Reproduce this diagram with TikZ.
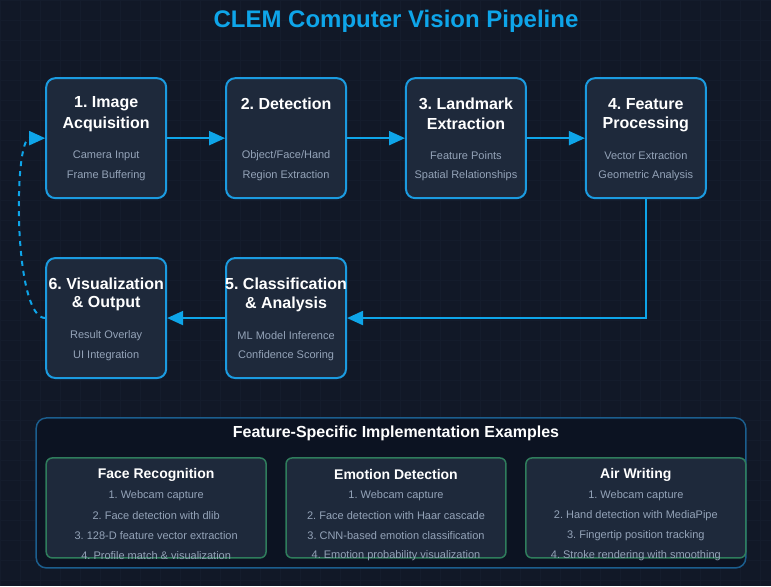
\documentclass[tikz,border=0pt]{standalone}
\usepackage{fontspec}
\setmainfont{Liberation Sans}
\usetikzlibrary{arrows.meta}
\frenchspacing

\definecolor{bgcol}{HTML}{111827}
\definecolor{gridcol}{HTML}{141C2C}
\definecolor{boxfill}{HTML}{1E293B}
\definecolor{accent}{HTML}{0EA5E9}
\definecolor{edgecol}{HTML}{1B9BE0}
\definecolor{subtext}{HTML}{94A3B8}
\definecolor{panelfill}{HTML}{0C1322}
\definecolor{paneledge}{HTML}{1B5E8E}
\definecolor{greenedge}{HTML}{2F7D5C}

\tikzset{
  stage/.style={draw=edgecol, line width=2pt, fill=boxfill, rounded corners=9pt,
    minimum width=120pt, minimum height=120pt, inner sep=0pt},
  stagetitle/.style={text=white, font=\bfseries\fontsize{16}{18}\selectfont, inner sep=0pt},
  stagenote/.style={text=subtext, font=\fontsize{11}{13}\selectfont, inner sep=0pt},
  flow/.style={draw=accent, line width=2pt, -{Triangle[length=16pt,width=14pt]}},
  loopback/.style={draw=accent, line width=2pt, dash pattern=on 5pt off 5pt,
    -{Triangle[length=16pt,width=14pt]}},
  examplebox/.style={draw=greenedge, line width=1.5pt, fill=boxfill, rounded corners=6pt,
    minimum width=220pt, minimum height=100pt, inner sep=0pt},
  exampletitle/.style={text=white, font=\bfseries\fontsize{14}{16}\selectfont, inner sep=0pt},
  exampleitem/.style={text=subtext, font=\fontsize{11}{13}\selectfont, inner sep=0pt},
}

\begin{document}
\begin{tikzpicture}[x=1pt, y=-1pt]
  % canvas and faint grid
  \fill[bgcol] (0,0) rectangle (771,586);
  \draw[gridcol, line width=0.5pt, step=20pt] (0,0) grid (771,586);
  \useasboundingbox (0,0) rectangle (771,586);

  % heading
  \node[text=accent, font=\bfseries\fontsize{24}{28}\selectfont, inner sep=0pt] (heading) at (396,21)
    {CLEM Computer Vision Pipeline};

  % pipeline stages
  \node[stage] (b1) at (106,138) {};
  \node[stage] (b2) at (286,138) {};
  \node[stage] (b3) at (466,138) {};
  \node[stage] (b4) at (646,138) {};
  \node[stage] (b5) at (286,318) {};
  \node[stage] (b6) at (106,318) {};

  % stage labels
  \node[stagetitle] (t1a) at (106,104) {1. Image};
  \node[stagetitle] (t1b) at (106,124) {Acquisition};
  \node[stagenote]  (n1a) at (106,155.5) {Camera Input};
  \node[stagenote]  (n1b) at (106,175.5) {Frame Buffering};

  \node[stagetitle] (t2a) at (286,104) {2. Detection};
  \node[stagenote]  (n2a) at (286,155.5) {Object/Face/Hand};
  \node[stagenote]  (n2b) at (286,175.5) {Region Extraction};

  \node[stagetitle] (t3a) at (466,104) {3. Landmark};
  \node[stagetitle] (t3b) at (466,124) {Extraction};
  \node[stagenote]  (n3a) at (466,155.5) {Feature Points};
  \node[stagenote]  (n3b) at (466,175.5) {Spatial Relationships};

  \node[stagetitle] (t4a) at (646,104) {4. Feature};
  \node[stagetitle] (t4b) at (646,124) {Processing};
  \node[stagenote]  (n4a) at (646,155.5) {Vector Extraction};
  \node[stagenote]  (n4b) at (646,175.5) {Geometric Analysis};

  \node[stagetitle] (t5a) at (286,284) {5. Classification};
  \node[stagetitle] (t5b) at (286,304) {\& Analysis};
  \node[stagenote]  (n5a) at (286,335.5) {ML Model Inference};
  \node[stagenote]  (n5b) at (286,355.5) {Confidence Scoring};

  \node[stagetitle] (t6a) at (106,284) {6. Visualization};
  \node[stagetitle] (t6b) at (106,304) {\& Output};
  \node[stagenote]  (n6a) at (106,335.5) {Result Overlay};
  \node[stagenote]  (n6b) at (106,355.5) {UI Integration};

  % connectors
  \draw[flow] (b1.east) -- (b2.west);
  \draw[flow] (b2.east) -- (b3.west);
  \draw[flow] (b3.east) -- (b4.west);
  \draw[flow] (b4.south) |- (b5.east);
  \draw[flow] (b5.west) -- (b6.east);
  \draw[loopback] (b6.west) .. controls +(-32,0) and +(-32,0) .. (b1.west);

  % examples panel
  \node[draw=paneledge, line width=1.5pt, fill=panelfill, rounded corners=10pt,
    minimum width=710pt, minimum height=150pt, inner sep=0pt] (panel) at (391,493) {};
  \node[text=white, font=\bfseries\fontsize{16}{19}\selectfont, inner sep=0pt] (ptitle) at (396,433)
    {Feature-Specific Implementation Examples};

  \node[examplebox] (e1) at (156,508) {};
  \node[examplebox] (e2) at (396,508) {};
  \node[examplebox] (e3) at (636,508) {};

  \node[exampletitle] (e1t) at (156,474.5) {Face Recognition};
  \node[exampleitem] (e1a) at (156,495.5) {1. Webcam capture};
  \node[exampleitem] (e1b) at (156,515.5) {2. Face detection with dlib};
  \node[exampleitem] (e1c) at (156,535.5) {3. 128-D feature vector extraction};
  \node[exampleitem] (e1d) at (156,555.5) {4. Profile match \& visualization};

  \node[exampletitle] (e2t) at (396,474.5) {Emotion Detection};
  \node[exampleitem] (e2a) at (396,495.5) {1. Webcam capture};
  \node[exampleitem] (e2b) at (396,515.5) {2. Face detection with Haar cascade};
  \node[exampleitem] (e2c) at (396,535.5) {3. CNN-based emotion classification};
  \node[exampleitem] (e2d) at (396,555.5) {4. Emotion probability visualization};

  \node[exampletitle] (e3t) at (636,474.5) {Air Writing};
  \node[exampleitem] (e3a) at (636,495.5) {1. Webcam capture};
  \node[exampleitem] (e3b) at (636,515.5) {2. Hand detection with MediaPipe};
  \node[exampleitem] (e3c) at (636,535.5) {3. Fingertip position tracking};
  \node[exampleitem] (e3d) at (636,555.5) {4. Stroke rendering with smoothing};
\end{tikzpicture}
\end{document}
